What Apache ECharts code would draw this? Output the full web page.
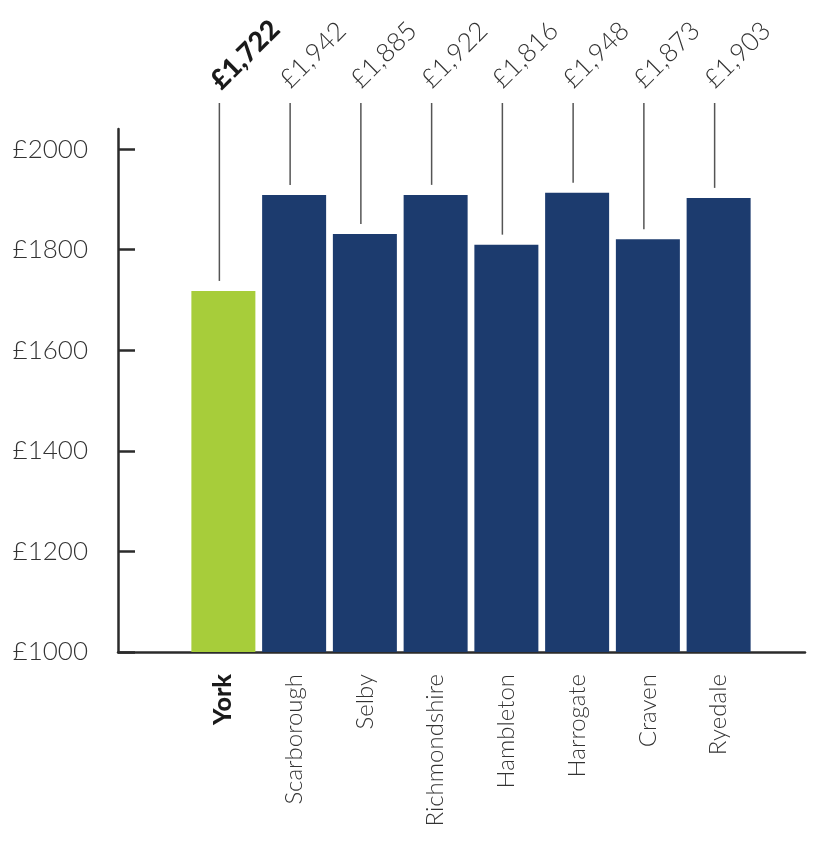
<!DOCTYPE html>
<html>
<head>
<meta charset="utf-8">
<script src="https://cdn.jsdelivr.net/npm/echarts@6/dist/echarts.min.js"></script>
<style>
  html, body { margin: 0; padding: 0; background: #fff; }
  #chart { width: 818px; height: 856px; }
</style>
</head>
<body>
<div id="chart"></div>
<script>
// districts, bar heights as drawn, and the figures printed above them
const districts = ['York', 'Scarborough', 'Selby', 'Richmondshire', 'Hambleton', 'Harrogate', 'Craven', 'Ryedale'];
const barValues = [1718, 1909, 1831, 1909, 1810, 1913, 1821, 1903];
const printedValues = [1722, 1942, 1885, 1922, 1816, 1948, 1873, 1903];
const yTicks = [1000, 1200, 1400, 1600, 1800, 2000];

const FONT = 'Lato, "Open Sans", sans-serif';
const GREEN = '#a7cd3a';
const NAVY = '#1c3b6e';

let myChart = echarts.init(document.getElementById('chart'));

myChart.setOption({
  animation: false,
  grid: [
    { left: 118, right: 13, top: 129, bottom: 204 },
    { left: 188, width: 566, top: 129, bottom: 204 }
  ],
  xAxis: [
    {
      gridIndex: 0, type: 'value', min: 0, max: 1,
      axisLine: { lineStyle: { color: '#2b2b2b', width: 2.5 } },
      axisTick: { show: false }, axisLabel: { show: false }, splitLine: { show: false }
    },
    {
      gridIndex: 1, type: 'category', data: districts,
      axisLine: { show: false }, axisTick: { show: false },
      axisLabel: {
        rotate: 90, margin: 22, interval: 0,
        color: '#333', fontFamily: FONT, fontSize: 24, fontWeight: 300,
        formatter: (v, i) => i === 0 ? '{b|' + v + '}' : v,
        rich: { b: { fontWeight: 900, fontSize: 25, fontFamily: FONT, color: '#1a1a1a' } }
      }
    }
  ],
  yAxis: [
    {
      gridIndex: 0, type: 'value', min: 1000, max: 2040, interval: 200,
      axisLine: { show: true, lineStyle: { color: '#2b2b2b', width: 2.5 } },
      axisTick: { show: true, inside: true, length: 17, customValues: yTicks, lineStyle: { color: '#2b2b2b', width: 2.5 } },
      axisLabel: {
        margin: 30, customValues: yTicks,
        color: '#333', fontFamily: FONT, fontSize: 26, fontWeight: 300,
        formatter: v => '£' + v
      },
      splitLine: { show: false }
    },
    { gridIndex: 1, type: 'value', min: 1000, max: 2040, show: false }
  ],
  series: [
    {
      type: 'bar', xAxisIndex: 1, yAxisIndex: 1, barWidth: 64,
      data: barValues.map((v, i) => ({ value: v, itemStyle: { color: i === 0 ? GREEN : NAVY } }))
    },
    {
      type: 'custom', xAxisIndex: 1, yAxisIndex: 1,
      data: barValues.map((v, i) => [i, v, printedValues[i]]),
      encode: { x: 0, y: 1 },
      renderItem: function (params, api) {
        const i = api.value(0);
        const p = api.coord([i, api.value(1)]);
        const top = api.coord([i, 2040])[1] - 26;
        const bold = i === 0;
        return {
          type: 'group',
          children: [
            {
              type: 'line',
              shape: { x1: p[0] - 4, y1: top, x2: p[0] - 4, y2: p[1] - 10 },
              style: { stroke: '#555', lineWidth: 1.5 }
            },
            {
              type: 'text',
              x: p[0] + (bold ? 22 : 19), y: top - 48, rotation: Math.PI / 4,
              style: {
                text: '£' + api.value(2).toLocaleString('en-GB'),
                x: 0, y: 0, align: 'center', verticalAlign: 'middle',
                textAlign: 'center', textVerticalAlign: 'middle',
                fill: bold ? '#1a1a1a' : '#333',
                fontFamily: FONT, fontSize: bold ? 27 : 26, fontWeight: bold ? 900 : 300
              }
            }
          ]
        };
      }
    }
  ]
});

window.addEventListener('resize', function () {
  myChart.resize();
});
</script>
</body>
</html>
